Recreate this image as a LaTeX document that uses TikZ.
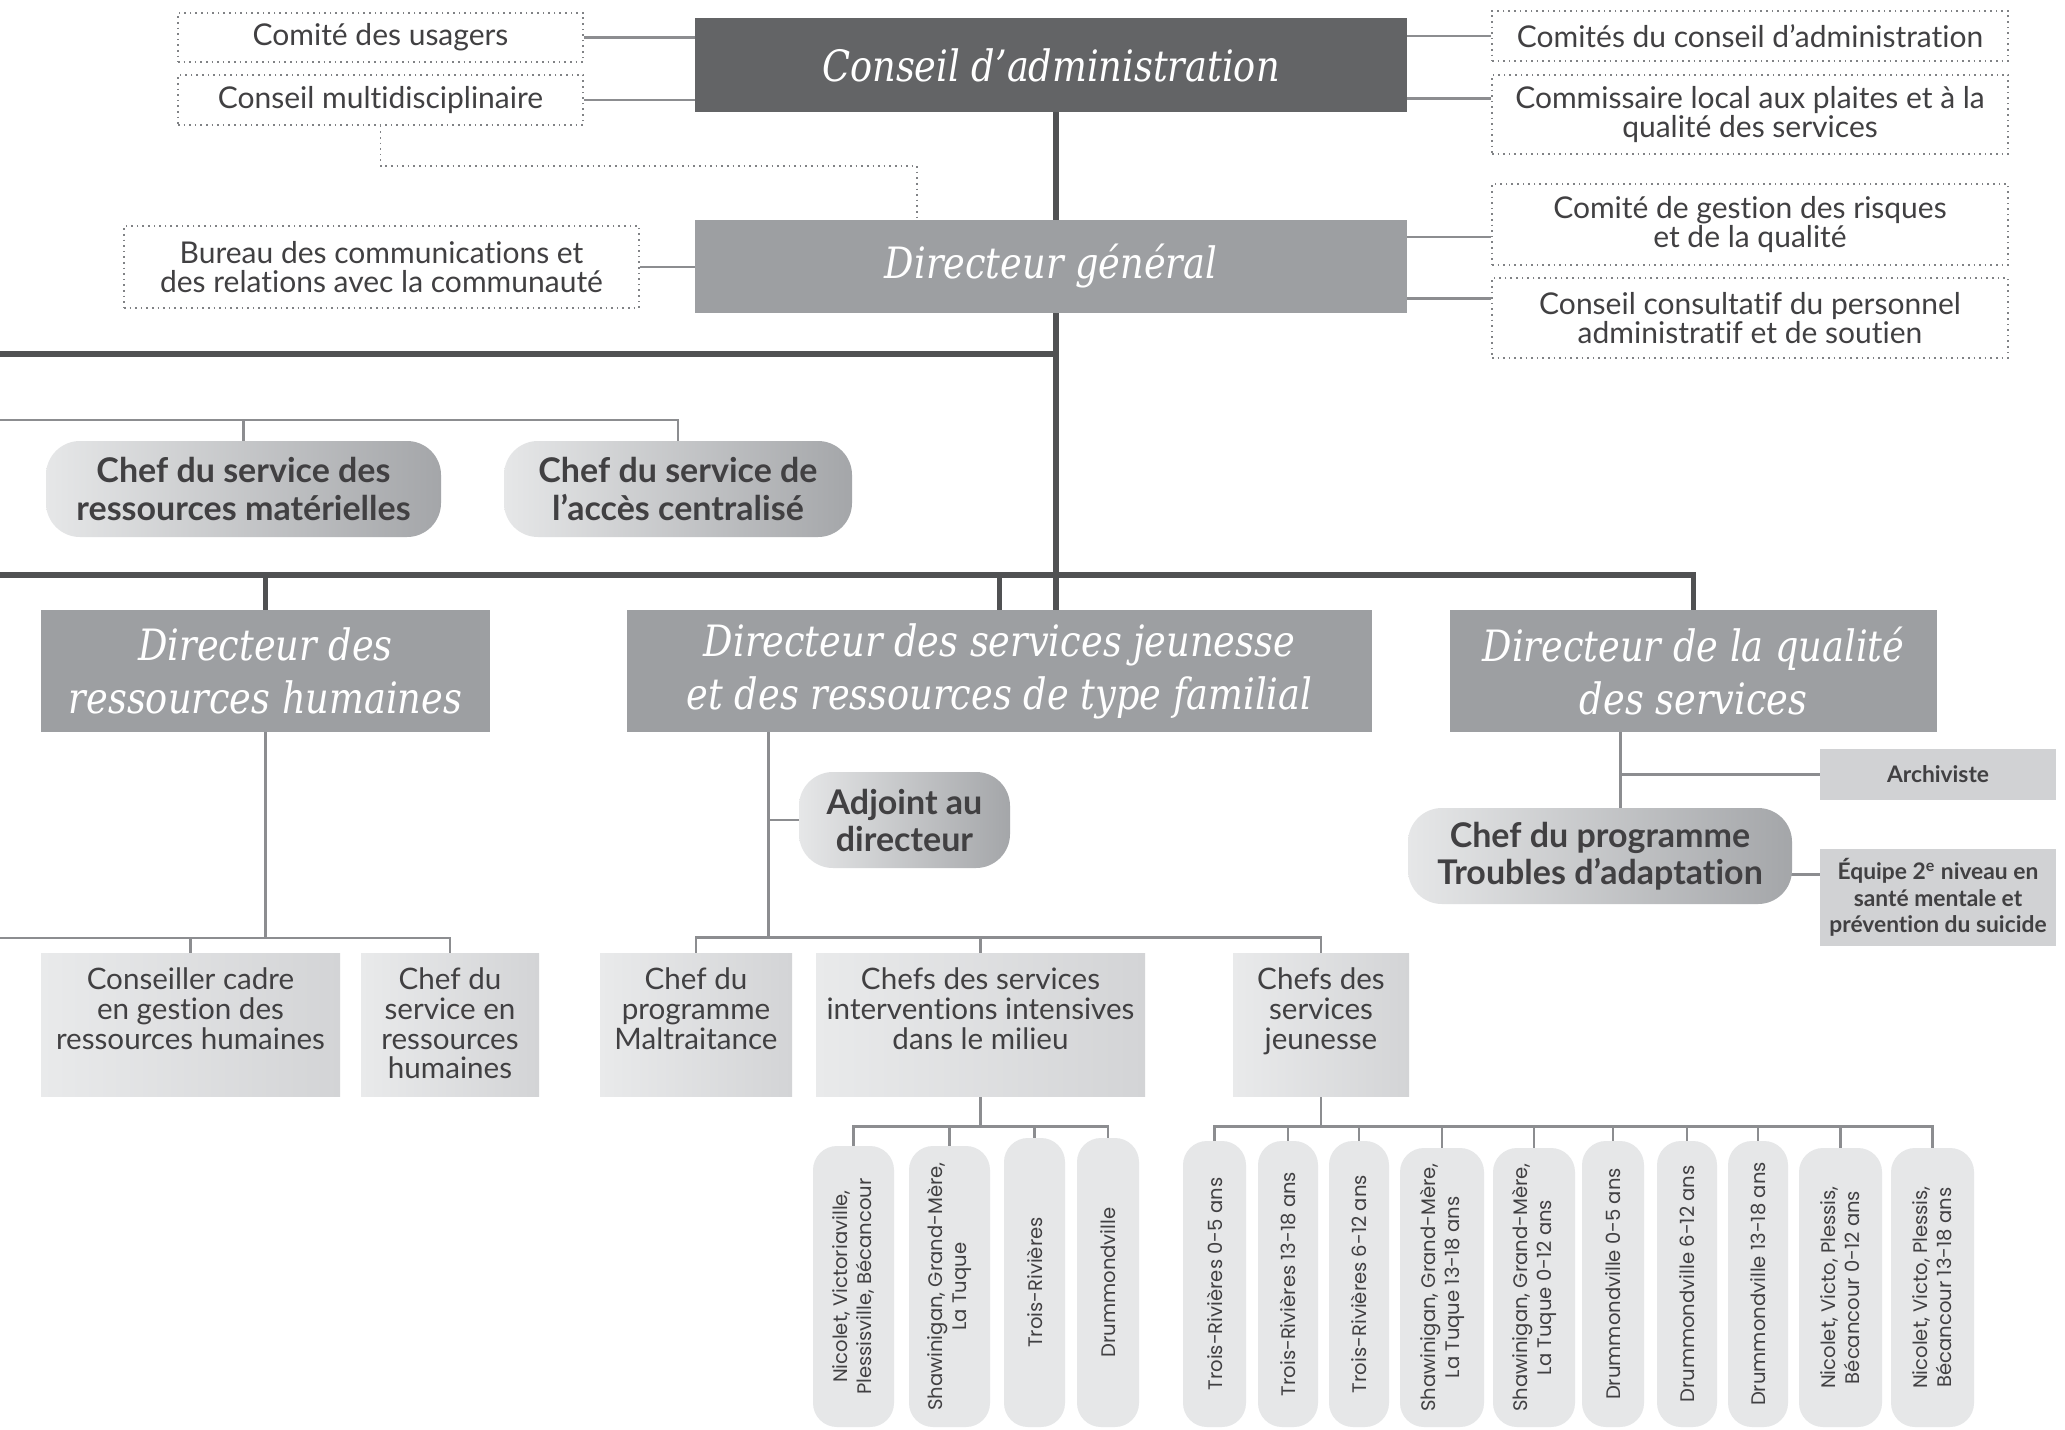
\documentclass[tikz,border=0pt]{standalone}
\usepackage{fontspec}
\setmainfont{Lato}
\newfontfamily\titlefont{DejaVu Serif}[FakeStretch=0.85]
\newfontfamily\bodyfont{Lato}[Ligatures=NoCommon]
\newfontfamily\vertfont{Poppins}
\usetikzlibrary{calc}
\definecolor{cadark}{HTML}{636466}
\definecolor{dirgray}{HTML}{9D9FA2}
\definecolor{thickln}{HTML}{505153}
\definecolor{thinln}{HTML}{8C8D90}
\definecolor{txtdark}{HTML}{414042}
\definecolor{dotgray}{HTML}{808285}
\definecolor{pale}{HTML}{E6E7E8}
\definecolor{palemid}{HTML}{DDDEE0}
\definecolor{shadedark}{HTML}{A4A6A9}
\definecolor{boxleft}{HTML}{E9EAEB}
\definecolor{boxright}{HTML}{D3D4D6}
\definecolor{flatgray}{HTML}{D1D2D4}
\pgfdeclarelayer{bglayer}
\pgfdeclarelayer{linelayer}
\pgfsetlayers{bglayer,linelayer,main}
\tikzset{
  sz/.style 2 args={minimum width=#1*0.5pt, minimum height=#2*0.5pt},
  dotbox/.style={draw=dotgray, dotted, line width=0.8pt, fill=white, inner sep=0pt, align=center, text=txtdark, font=\bodyfont\fontsize{15}{14.6}\selectfont},
  cabox/.style={fill=cadark, text=white, inner sep=0pt, align=center, font=\titlefont\itshape\fontsize{21.6}{26.5}\selectfont},
  dirbox/.style={fill=dirgray, text=white, inner sep=0pt, align=center, font=\titlefont\itshape\fontsize{21.6}{26.5}\selectfont},
  chefpill/.style={rounded corners=17pt, left color=pale, middle color=palemid, right color=shadedark, inner sep=0pt, align=center, text=txtdark, font=\bodyfont\bfseries\fontsize{17}{18.5}\selectfont},
  gradbox/.style={left color=boxleft, right color=boxright, inner sep=0pt},
  gradtext/.style={anchor=north, yshift=-7.5pt, align=center, text=txtdark, inner sep=0pt, font=\bodyfont\fontsize{14.8}{14.8}\selectfont},
  flatbox/.style={fill=flatgray, inner sep=0pt, align=center, text=txtdark, font=\bodyfont\bfseries\fontsize{11.4}{13.2}\selectfont},
  vpill/.style={fill=pale, rounded corners=12pt, rotate=90, inner sep=0pt, align=center, text=txtdark, font=\vertfont\fontsize{9.8}{12}\selectfont},
  mainline/.style={draw=thickln, line width=2.7pt},
  subline/.style={draw=thinln, line width=1.3pt},
  dotline/.style={draw=dotgray, dotted, line width=0.8pt},
}
\begin{document}
\begin{tikzpicture}[x=0.5pt,y=-0.5pt]
\useasboundingbox (0,0) rectangle (2065,1429);
\begin{pgfonlayer}{bglayer}
\fill[white] (0,0) rectangle (2065,1429);
\end{pgfonlayer}
\clip (0,0) rectangle (2065,1429);

% top level
\node[dotbox, sz={405}{49}] (usagers) at (380.5,37.5) {Comité des usagers};
\node[dotbox, sz={405}{50}] (multi) at (380.5,100) {Conseil multidisciplinaire};
\node[cabox, sz={712}{94}] (CA) at (1051,65) {Conseil d’administration};
\node[dotbox, sz={516}{50}] (comites) at (1750,36) {Comités du conseil d’administration};
\node[dotbox, sz={516}{79}] (commissaire) at (1750,114.5) {Commissaire local aux plaites et à la\\qualité des services};
\node[dirbox, sz={712}{93}] (DG) at (1051,266.5) {Directeur général};
\node[dotbox, sz={515}{82}] (bureau) at (381.5,267) {Bureau des communications et\\des relations avec la communauté};
\node[dotbox, sz={516}{81}] (risques) at (1750,224.5) {Comité de gestion des risques\\et de la qualité};
\node[dotbox, sz={516}{80}] (consultatif) at (1750,318) {Conseil consultatif du personnel\\administratif et de soutien};

% chef pills second row
\node[chefpill, sz={395}{96}] (materielles) at (243.5,489) {Chef du service des\\ressources matérielles};
\node[chefpill, sz={348}{96}] (acces) at (678,489) {Chef du service de\\l’accès centralisé};

% directors
\node[dirbox, sz={449}{122}] (DRH) at (265.5,671) {Directeur des\\ressources humaines};
\node[dirbox, sz={745}{122}] (DSJ) at (999.5,671) {Directeur des services jeunesse\\et des ressources de type familial};
\node[dirbox, sz={487}{122}] (DQS) at (1693.5,671) {Directeur de la qualité\\des services};

% DRH children
\node[gradbox, sz={299}{143}] (conseiller) at (190.5,1024.5) {};
\node[gradtext] (conseillertxt) at (conseiller.north) {Conseiller cadre\\en gestion des\\ressources humaines};
\node[gradbox, sz={178}{143}] (chefRH) at (450,1024.5) {};
\node[gradtext] (chefRHtxt) at (chefRH.north) {Chef du\\service en\\ressources\\humaines};

% DSJ children
\node[chefpill, sz={211}{96}] (adjoint) at (904.5,820) {Adjoint au\\directeur};
\node[gradbox, sz={192}{143}] (maltr) at (696,1024.5) {};
\node[gradtext] (maltrtxt) at (maltr.north) {Chef du\\programme\\Maltraitance};
\node[gradbox, sz={329}{143}] (interv) at (980.5,1024.5) {};
\node[gradtext] (intervtxt) at (interv.north) {Chefs des services\\interventions intensives\\dans le milieu};
\node[gradbox, sz={176}{143}] (jeunesse) at (1321,1024.5) {};
\node[gradtext] (jeunessetxt) at (jeunesse.north) {Chefs des\\services\\jeunesse};

% DQS children
\node[chefpill, sz={384}{96}] (TA) at (1600,856) {Chef du programme\\Troubles d’adaptation};
\node[flatbox, sz={236}{51}] (archiviste) at (1938,774.5) {Archiviste};
\node[flatbox, sz={236}{97}] (equipe) at (1938,897.5) {Équipe 2\textsuperscript{e} niveau en\\santé mentale et\\prévention du suicide};

% intervention pills
\node[vpill, sz={281}{81}] (IA) at (853.5,1286.5) {Nicolet, Victoriaville,\\Plessisville, Bécancour};
\node[vpill, sz={281}{81}] (IB) at (949.5,1286.5) {Shawinigan, Grand-Mère,\\La Tuque};
\node[vpill, sz={289}{61}] (IC) at (1034.5,1282.5) {Trois-Rivières};
\node[vpill, sz={289}{62}] (ID) at (1108,1282.5) {Drummondville};

% jeunesse pills
\node[vpill, sz={286}{63}] (J1) at (1214.5,1284) {Trois-Rivières 0-5 ans};
\node[vpill, sz={286}{60}] (J2) at (1288,1284) {Trois-Rivières 13-18 ans};
\node[vpill, sz={286}{60}] (J3) at (1359,1284) {Trois-Rivières 6-12 ans};
\node[vpill, sz={279}{84}] (J4) at (1442,1287.5) {Shawinigan, Grand-Mère,\\La Tuque 13-18 ans};
\node[vpill, sz={279}{82}] (J5) at (1534,1287.5) {Shawinigan, Grand-Mère,\\La Tuque 0-12 ans};
\node[vpill, sz={286}{62}] (J6) at (1613,1284) {Drummondville 0-5 ans};
\node[vpill, sz={286}{60}] (J7) at (1687,1284) {Drummondville 6-12 ans};
\node[vpill, sz={286}{60}] (J8) at (1758,1284) {Drummondville 13-18 ans};
\node[vpill, sz={279}{83}] (J9) at (1840.5,1287.5) {Nicolet, Victo, Plessis,\\Bécancour 0-12 ans};
\node[vpill, sz={279}{83}] (J10) at (1932.5,1287.5) {Nicolet, Victo, Plessis,\\Bécancour 13-18 ans};

% free-end coordinates at the left edge
\coordinate (leftA) at (0,354);
\coordinate (leftB) at (0,420);
\coordinate (leftC) at (0,575);
\coordinate (leftD) at (0,938);

\begin{pgfonlayer}{linelayer}
% side committees
\draw[subline] (usagers.east) -- (usagers.east -| CA.west);
\draw[subline] (multi.east) -- (multi.east -| CA.west);
\draw[subline] (comites.west) -- (comites.west -| CA.east);
\coordinate (commin) at ($(commissaire.north west)!0.3!(commissaire.south west)$);
\draw[subline] (commin) -- (commin -| CA.east);
\draw[subline] (bureau.east) -- (bureau.east -| DG.west);
\coordinate (risqin) at ($(risques.north west)!0.65!(risques.south west)$);
\draw[subline] (risqin) -- (risqin -| DG.east);
\coordinate (consin) at ($(consultatif.north west)!0.26!(consultatif.south west)$);
\draw[subline] (consin) -- (consin -| DG.east);
% dotted link
\coordinate (dgtop) at ($(DG.north west)!0.312!(DG.north east)$);
\coordinate (dotturn) at ($(multi.south)+(0,40)$);
\draw[dotline] (multi.south) -- (dotturn) -| (dgtop);
% trunk
\coordinate (trunk) at ($(CA.south)+(5,0)$);
\draw[mainline] (trunk) -- (trunk |- DSJ.north);
\draw[mainline] (leftA) -- (leftA -| trunk);
\draw[subline] (leftB) -| (acces.north);
\draw[subline] (materielles.north) -- (materielles.north |- leftB);
\draw[mainline] (leftC) -| (DQS.north);
\draw[mainline] (DRH.north) -- (DRH.north |- leftC);
\draw[mainline] (DSJ.north) -- (DSJ.north |- leftC);
% DRH branch
\draw[subline] (DRH.south) -- (DRH.south |- leftD);
\draw[subline] (leftD) -| (chefRH.north);
\draw[subline] (conseiller.north) -- (conseiller.north |- leftD);
% DSJ branch
\coordinate (dsjout) at ($(DSJ.south west)!0.19!(DSJ.south east)$);
\coordinate (dsjbar) at ($(maltr.north)+(0,-15)$);
\draw[subline] (dsjout) -- (dsjout |- dsjbar);
\draw[subline] (adjoint.west) -- (adjoint.west -| dsjout);
\draw[subline] (maltr.north) -- (dsjbar) -| (jeunesse.north);
\draw[subline] (interv.north) -- (interv.north |- dsjbar);
% intervention pills
\coordinate (ibar) at ($(interv.south)+(0,30)$);
\draw[subline] (interv.south) -- (ibar);
\draw[subline] (IA.east) |- (ibar);
\draw[subline] (ID.east) |- (ibar);
\draw[subline] (IB.east) -- (IB.east |- ibar);
\draw[subline] (IC.east) -- (IC.east |- ibar);
% jeunesse pills
\coordinate (jbar) at ($(jeunesse.south)+(0,30)$);
\draw[subline] (jeunesse.south) -- (jbar);
\draw[subline] (J1.east) |- (jbar);
\draw[subline] (J10.east) |- (jbar);
\foreach \j in {J2,J3,J4,J5,J6,J7,J8,J9}{
  \draw[subline] (\j.east) -- (\j.east |- jbar);
}
% DQS branch
\coordinate (dqsout) at ($(DQS.south west)!0.35!(DQS.south east)$);
\draw[subline] (dqsout) -- (dqsout |- TA.north);
\draw[subline] (archiviste.west) -- (archiviste.west -| dqsout);
\coordinate (taout) at ($(TA.north east)!0.69!(TA.south east)+(-20,0)$);
\draw[subline] (taout) -- (taout -| equipe.west);
\end{pgfonlayer}
\end{tikzpicture}
\end{document}
